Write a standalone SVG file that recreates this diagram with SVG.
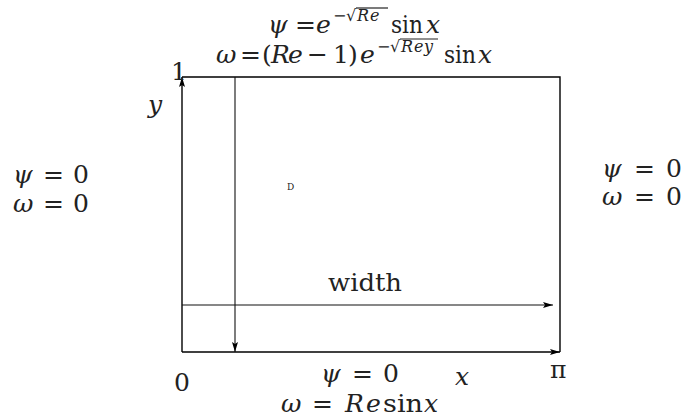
<svg xmlns="http://www.w3.org/2000/svg" width="684" height="417" viewBox="0 0 684 417">
<style>
text{font-family:'DejaVu Serif',serif;fill:#222;font-size:25px}
.i{font-style:italic}
.s{font-size:16px}
.ln{stroke:#000;stroke-width:1.4;fill:none}
.thin{stroke:#111;stroke-width:1.1;fill:none}
.bar{stroke:#222;stroke-width:1.2}
</style>
<defs>
<marker id="ah" viewBox="0 0 10 6" refX="10" refY="3" markerWidth="10" markerHeight="6" markerUnits="userSpaceOnUse" orient="auto">
<path d="M0,0 L10,3 L0,6 L2,3 Z" fill="#000"/>
</marker>
</defs>
<g id="domain">
<path class="ln" d="M182,77 L560,77 L560,352"/>
</g>
<g id="connectors">
<line class="ln" x1="182" y1="352" x2="560" y2="352" marker-end="url(#ah)"/>
<line class="ln" x1="182" y1="352" x2="182" y2="77" marker-end="url(#ah)"/>
<line class="thin" x1="235" y1="77" x2="235" y2="352" marker-end="url(#ah)"/>
<line class="thin" x1="182" y1="305" x2="553" y2="305" marker-end="url(#ah)"/>
</g>
<g id="top-bc">
<text y="33"><tspan x="268" class="i">ψ</tspan><tspan x="295">=</tspan><tspan x="316" class="i">e</tspan><tspan x="333" y="21" class="s">−</tspan><tspan x="346" y="21" class="s">√</tspan><tspan x="357" y="21" class="s i">R</tspan><tspan x="370" y="21" class="s i">e</tspan><tspan x="391" y="33" textLength="32" lengthAdjust="spacingAndGlyphs">sin</tspan><tspan x="426" class="i">x</tspan></text>
<line class="bar" x1="356" y1="8" x2="388" y2="8"/>
<text y="63"><tspan x="216" class="i">ω</tspan><tspan x="240">=</tspan><tspan x="262">(</tspan><tspan x="271" class="i">R</tspan><tspan x="288" class="i">e</tspan><tspan x="307">−</tspan><tspan x="333">1</tspan><tspan x="348">)</tspan><tspan x="360" class="i">e</tspan><tspan x="377" y="52" class="s">−</tspan><tspan x="390" y="52" class="s">√</tspan><tspan x="401" y="52" class="s i">R</tspan><tspan x="414" y="52" class="s i">e</tspan><tspan x="424" y="52" class="s i">y</tspan><tspan x="444" y="63" textLength="32" lengthAdjust="spacingAndGlyphs">sin</tspan><tspan x="478" class="i">x</tspan></text>
<line class="bar" x1="400" y1="39" x2="438" y2="39"/>
</g>
<g id="left-bc">
<text y="183"><tspan x="13" class="i">ψ</tspan><tspan x="43">=</tspan><tspan x="73">0</tspan></text>
<text y="212"><tspan x="13" class="i">ω</tspan><tspan x="43">=</tspan><tspan x="73">0</tspan></text>
</g>
<g id="right-bc">
<text y="177"><tspan x="602" class="i">ψ</tspan><tspan x="634">=</tspan><tspan x="666">0</tspan></text>
<text y="205"><tspan x="602" class="i">ω</tspan><tspan x="634">=</tspan><tspan x="666">0</tspan></text>
</g>
<g id="bottom-bc">
<text y="382"><tspan x="321" class="i">ψ</tspan><tspan x="352">=</tspan><tspan x="383">0</tspan></text>
<text y="412"><tspan x="281" class="i">ω</tspan><tspan x="312">=</tspan><tspan x="345" class="i">R</tspan><tspan x="366" class="i">e</tspan><tspan x="383" textLength="40" lengthAdjust="spacingAndGlyphs">sin</tspan><tspan x="424" class="i">x</tspan></text>
</g>
<g id="labels">
<text x="171" y="80">1</text>
<text x="148" y="113" class="i">y</text>
<text x="174" y="391">0</text>
<text x="455" y="385" class="i">x</text>
<text x="550" y="378">π</text>
<text x="328" y="291" textLength="74" lengthAdjust="spacingAndGlyphs">width</text>
<text x="287" y="190" style="font-size:9px">D</text>
</g>
</svg>
